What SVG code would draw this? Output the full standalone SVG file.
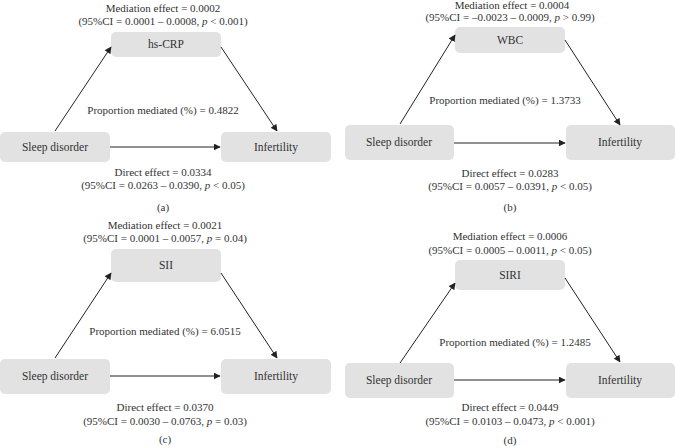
<svg xmlns="http://www.w3.org/2000/svg" width="675" height="448" viewBox="0 0 675 448">
<defs>
<marker id="ah" viewBox="0 0 10 10" refX="9" refY="5" markerWidth="7" markerHeight="7" orient="auto" markerUnits="userSpaceOnUse">
<path d="M0,0 L10,5 L0,10 z" fill="#222"/>
</marker>
</defs>
<style>
text{font-family:"Liberation Serif","Times New Roman",serif;font-size:11px;fill:#333;text-anchor:middle}
.box{fill:#e2e2e2}
.lbl{font-size:11.5px}
.c{stroke:#222;stroke-width:1;fill:none;marker-end:url(#ah)}
.i{font-style:italic}
</style>
<rect width="675" height="448" fill="#fff"/>

<!-- Panel a -->
<g id="a-med"><rect class="box" x="111" y="32" width="110" height="25" rx="5"/><text class="lbl" x="166" y="48">hs-CRP</text></g>
<g id="a-sleep"><rect class="box" x="0" y="132" width="110" height="30" rx="5"/><text class="lbl" x="55" y="151">Sleep disorder</text></g>
<g id="a-inf"><rect class="box" x="221" y="132" width="110" height="30" rx="5"/><text class="lbl" x="276" y="151">Infertility</text></g>
<g id="a-conn">
<line class="c" x1="55" y1="131" x2="111" y2="47"/>
<line class="c" x1="221" y1="47" x2="277" y2="131"/>
<line class="c" x1="110" y1="147" x2="220" y2="147"/>
</g>
<g id="a-text">
<text x="163" y="12">Mediation effect = 0.0002</text>
<text x="163" y="25">(95%CI = 0.0001 – 0.0008, <tspan class="i">p</tspan> &lt; 0.001)</text>
<text x="163" y="114">Proportion mediated (%) =  0.4822</text>
<text x="163" y="176">Direct effect = 0.0334</text>
<text x="163" y="189">(95%CI = 0.0263 – 0.0390, <tspan class="i">p</tspan> &lt; 0.05)</text>
<text x="163" y="211">(a)</text>
</g>

<!-- Panel b -->
<g id="b-med"><rect class="box" x="455" y="27" width="110" height="26" rx="5"/><text class="lbl" x="510" y="44">WBC</text></g>
<g id="b-sleep"><rect class="box" x="345" y="125" width="109" height="35" rx="5"/><text class="lbl" x="399" y="146">Sleep disorder</text></g>
<g id="b-inf"><rect class="box" x="566" y="125" width="109" height="35" rx="5"/><text class="lbl" x="620" y="146">Infertility</text></g>
<g id="b-conn">
<line class="c" x1="400" y1="124" x2="455" y2="35"/>
<line class="c" x1="565" y1="40" x2="620" y2="125"/>
<line class="c" x1="454" y1="143" x2="565" y2="143"/>
</g>
<g id="b-text">
<text x="512" y="9">Mediation effect = 0.0004</text>
<text x="510" y="21">(95%CI = –0.0023 – 0.0009, <tspan class="i">p</tspan> &gt; 0.99)</text>
<text x="505" y="104">Proportion mediated (%) =  1.3733</text>
<text x="510" y="177">Direct effect = 0.0283</text>
<text x="510" y="190">(95%CI = 0.0057 – 0.0391, <tspan class="i">p</tspan> &lt; 0.05)</text>
<text x="510" y="211">(b)</text>
</g>

<!-- Panel c -->
<g id="c-med"><rect class="box" x="111" y="249" width="110" height="33" rx="5"/><text class="lbl" x="166" y="269">SII</text></g>
<g id="c-sleep"><rect class="box" x="0" y="359" width="110" height="35" rx="5"/><text class="lbl" x="55" y="380">Sleep disorder</text></g>
<g id="c-inf"><rect class="box" x="221" y="359" width="110" height="35" rx="5"/><text class="lbl" x="276" y="380">Infertility</text></g>
<g id="c-conn">
<line class="c" x1="55" y1="358" x2="111" y2="273"/>
<line class="c" x1="221" y1="273" x2="277" y2="358"/>
<line class="c" x1="110" y1="376" x2="220" y2="376"/>
</g>
<g id="c-text">
<text x="165" y="229">Mediation effect = 0.0021</text>
<text x="165" y="242">(95%CI = 0.0001 – 0.0057, <tspan class="i">p</tspan> = 0.04)</text>
<text x="165" y="335">Proportion mediated (%) =  6.0515</text>
<text x="165" y="411">Direct effect = 0.0370</text>
<text x="165" y="425">(95%CI = 0.0030 – 0.0763, <tspan class="i">p</tspan> = 0.03)</text>
<text x="165" y="443">(c)</text>
</g>

<!-- Panel d -->
<g id="d-med"><rect class="box" x="455" y="260" width="110" height="30" rx="5"/><text class="lbl" x="510" y="279">SIRI</text></g>
<g id="d-sleep"><rect class="box" x="345" y="363" width="109" height="35" rx="5"/><text class="lbl" x="399" y="384">Sleep disorder</text></g>
<g id="d-inf"><rect class="box" x="566" y="363" width="109" height="35" rx="5"/><text class="lbl" x="620" y="384">Infertility</text></g>
<g id="d-conn">
<line class="c" x1="400" y1="363" x2="455" y2="283"/>
<line class="c" x1="565" y1="278" x2="620" y2="362"/>
<line class="c" x1="454" y1="380" x2="565" y2="380"/>
</g>
<g id="d-text">
<text x="510" y="240">Mediation effect = 0.0006</text>
<text x="510" y="254">(95%CI = 0.0005 – 0.0011, <tspan class="i">p</tspan> &lt; 0.05)</text>
<text x="515" y="346">Proportion mediated (%) = 1.2485</text>
<text x="510" y="411">Direct effect = 0.0449</text>
<text x="510" y="425">(95%CI = 0.0103 – 0.0473, <tspan class="i">p</tspan> &lt; 0.001)</text>
<text x="510" y="444">(d)</text>
</g>
</svg>
